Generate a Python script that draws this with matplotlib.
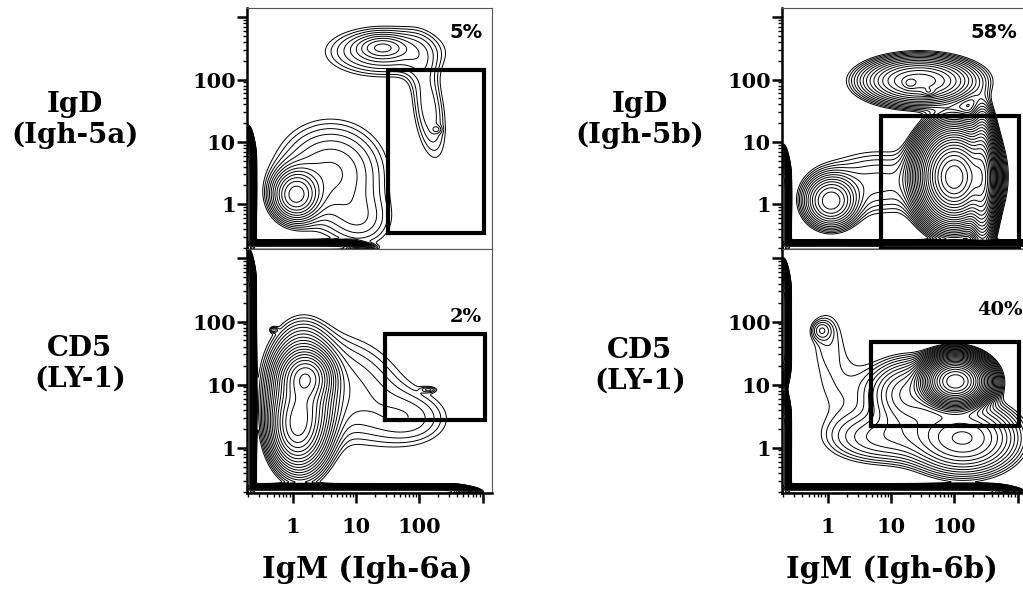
import numpy as np
import matplotlib
matplotlib.use("Agg")
import matplotlib.pyplot as plt
from matplotlib.ticker import FixedLocator, NullFormatter, LogLocator

# ---------------- data (log10 units) ----------------
# populations: centre (log10 IgM, log10 2nd marker), spreads, correlation, peak weight
lt_cx = [0.05, 0.60, 1.10, 1.42, 1.45, 2.15, 2.28]
lt_cy = [0.15, 0.50, -0.30, 2.52, 2.45, 1.55, 1.20]
lt_sx = [0.20, 0.55, 0.35, 0.22, 0.60, 0.20, 0.05]
lt_sy = [0.22, 0.52, 0.30, 0.11, 0.26, 0.60, 0.04]
lt_r = [0.0, 0.0, 0.0, 0.0, 0.0, -0.4, 0.0]
lt_w = [0.45, 0.12, 0.05, 0.10, 0.10, 0.07, 0.03]
# event pile-up bands along the axes: axis, position, start, end
lt_band_axis = ["y", "x"]
lt_band_pos = [-0.70, -0.70]
lt_band_lo = [-1.0, -1.0]
lt_band_hi = [0.85, 0.90]

lb_cx = [0.22, 0.05, 0.15, 0.80, 1.90, 2.15, -0.30]
lb_cy = [1.12, 0.30, 0.70, 0.95, 0.45, 0.92, 1.87]
lb_sx = [0.20, 0.20, 0.25, 0.70, 0.45, 0.08, 0.04]
lb_sy = [0.20, 0.30, 0.50, 0.60, 0.30, 0.03, 0.03]
lb_r = [0.0, 0.0, 0.0, -0.2, 0.0, 0.0, 0.0]
lb_w = [1.00, 0.80, 1.00, 0.08, 0.05, 0.04, 0.05]
lb_band_axis = ["y", "x"]
lb_band_pos = [-0.70, -0.70]
lb_band_lo = [-1.0, -1.0]
lb_band_hi = [2.75, 2.60]

rt_cx = [1.45, 1.30, 1.60, 2.00, 2.00, 2.45, 0.05, 0.80]
rt_cy = [1.98, 1.94, 1.80, 0.45, 0.40, 0.40, 0.05, 0.35]
rt_sx = [0.45, 0.06, 0.06, 0.25, 0.15, 0.10, 0.22, 0.60]
rt_sy = [0.19, 0.05, 0.04, 0.33, 0.20, 0.45, 0.22, 0.35]
rt_r = [0.0, 0.0, 0.0, 0.0, 0.0, 0.0, 0.0, 0.0]
rt_w = [0.80, 0.25, 0.20, 10.0, 2.0, 3.0, 0.50, 0.08]
rt_band_axis = ["y", "x"]
rt_band_pos = [-0.70, -0.70]
rt_band_lo = [-1.0, -1.0]
rt_band_hi = [0.55, 3.40]

rb_cx = [2.02, 1.30, 2.15, 0.90, -0.10, 0.00, 0.20]
rb_cy = [1.05, 0.85, 0.15, 0.15, 1.86, 1.80, 1.00]
rb_sx = [0.22, 0.35, 0.45, 0.55, 0.10, 0.20, 0.40]
rb_sy = [0.17, 0.30, 0.30, 0.25, 0.10, 0.35, 0.50]
rb_r = [0.0, 0.0, 0.0, 0.0, 0.0, 0.0, 0.0]
rb_w = [15.0, 0.30, 0.45, 0.12, 0.06, 0.035, 0.035]
rb_band_axis = ["y", "y", "x"]
rb_band_pos = [-0.70, -0.70, -0.70]
rb_band_lo = [1.25, -1.0, -1.0]
rb_band_hi = [2.60, 0.60, 2.70]

# gates: x0, x1, y0, y1 (fluorescence units)
lt_gate = [32, 1050, 0.34, 145]
lb_gate = [29, 1090, 2.7, 64]
rt_gate = [7, 1070, 0.19, 26]
rb_gate = [4.9, 1070, 2.2, 48]

pct_labels = ["5%", "2%", "58%", "40%"]
y_labels = ["IgD\n(Igh-5a)", "CD5\n(LY-1)", "IgD\n(Igh-5b)", "CD5\n(LY-1)"]
x_labels = ["IgM (Igh-6a)", "IgM (Igh-6b)"]
tick_vals = [1, 10, 100]
tick_text = ["1", "10", "100"]

# ---------------- figure ----------------
W, H = 1023, 592
fig = plt.figure(figsize=(W / 100, H / 100), dpi=100)

lo, hi = 10 ** -0.72, 10 ** 3.15
g = np.linspace(-0.75, 3.2, 500)
U, V = np.meshgrid(g, g)
levels_all = 0.03 * 1.25 ** np.arange(0, 45)

SERIF = "DejaVu Serif"


def density(cx, cy, sx, sy, rho, w, baxis, bpos, blo, bhi):
    Z = np.zeros_like(U)
    for a, b, c, d, r, e in zip(cx, cy, sx, sy, rho, w):
        du = (U - a) / c
        dv = (V - b) / d
        q = (du ** 2 - 2 * r * du * dv + dv ** 2) / (1 - r ** 2)
        Z += e * np.exp(-0.5 * q)
    for ax_, p, l0, l1 in zip(baxis, bpos, blo, bhi):
        across, along = (U, V) if ax_ == "y" else (V, U)
        prof = 0.5 * (np.tanh((along - l0) / 0.12) - np.tanh((along - l1) / 0.12))
        Z += 30.0 * prof * np.exp(-0.5 * ((across - p) / 0.035) ** 2)
    return Z


def ax_px(x0, y0, x1, y1):
    return fig.add_axes([x0 / W, 1 - y1 / H, (x1 - x0) / W, (y1 - y0) / H])


def setup(ax, bottom):
    ax.set_xscale("log")
    ax.set_yscale("log")
    ax.set_xlim(lo, hi)
    ax.set_ylim(lo, hi)
    for s in ("top", "right"):
        ax.spines[s].set_linewidth(0.8)
        ax.spines[s].set_color("#555555")
    ax.spines["left"].set_linewidth(1.8)
    ax.spines["bottom"].set_linewidth(1.8 if bottom else 0.8)
    ax.set_yticks(tick_vals + [1000])
    ax.set_yticklabels(tick_text + [""], fontfamily=SERIF, fontweight="bold", fontsize=15)
    ax.yaxis.set_minor_locator(LogLocator(base=10, subs=np.arange(2, 10)))
    ax.yaxis.set_minor_formatter(NullFormatter())
    ax.tick_params(axis="y", which="major", direction="out", length=7, width=1.8, pad=1)
    ax.tick_params(axis="y", which="minor", direction="out", length=3, width=1.0)
    if bottom:
        ax.set_xticks(tick_vals + [1000])
        ax.set_xticklabels(tick_text + [""], fontfamily=SERIF, fontweight="bold", fontsize=15)
        ax.xaxis.set_minor_locator(LogLocator(base=10, subs=np.arange(2, 10)))
        ax.xaxis.set_minor_formatter(NullFormatter())
        ax.tick_params(axis="x", which="major", direction="out", length=7, width=1.8, pad=10)
        ax.tick_params(axis="x", which="minor", direction="out", length=3, width=1.0)
    else:
        ax.set_xticks([])
        ax.xaxis.set_minor_locator(FixedLocator([]))


def panel(ax, pops, gate, pct, pct_pos, pct_family):
    Z = density(*pops)
    lv = levels_all[levels_all < Z.max()]
    ax.contour(10 ** U, 10 ** V, Z, levels=lv, colors="black", linewidths=0.7)
    x0, x1, y0, y1 = gate
    ax.plot([x0, x1, x1, x0, x0], [y0, y0, y1, y1, y0], color="black", lw=3.0,
            solid_joinstyle="miter", clip_on=False)
    ax.text(pct_pos[0], pct_pos[1], pct, transform=ax.transAxes, ha="right", va="center",
            fontsize=14, fontweight="bold", fontfamily=pct_family)


axLT = ax_px(247, 8, 492, 249)
axLB = ax_px(247, 249, 492, 493)
axRT = ax_px(782, 8, 1027, 249)   # right column is cut by the figure edge
axRB = ax_px(782, 249, 1027, 493)

for a, b in ((axLT, False), (axLB, True), (axRT, False), (axRB, True)):
    setup(a, b)

panel(axLT, (lt_cx, lt_cy, lt_sx, lt_sy, lt_r, lt_w, lt_band_axis, lt_band_pos, lt_band_lo, lt_band_hi),
      lt_gate, pct_labels[0], (0.96, 0.90), "DejaVu Sans")
panel(axLB, (lb_cx, lb_cy, lb_sx, lb_sy, lb_r, lb_w, lb_band_axis, lb_band_pos, lb_band_lo, lb_band_hi),
      lb_gate, pct_labels[1], (0.96, 0.72), SERIF)
panel(axRT, (rt_cx, rt_cy, rt_sx, rt_sy, rt_r, rt_w, rt_band_axis, rt_band_pos, rt_band_lo, rt_band_hi),
      rt_gate, pct_labels[2], (0.96, 0.90), "DejaVu Sans")
panel(axRB, (rb_cx, rb_cy, rb_sx, rb_sy, rb_r, rb_w, rb_band_axis, rb_band_pos, rb_band_lo, rb_band_hi),
      rb_gate, pct_labels[3], (0.985, 0.75), SERIF)

lab = dict(fontfamily=SERIF, fontweight="bold", fontsize=20, ha="center", va="center",
           linespacing=1.2)
fig.text(75 / W, 1 - 120 / H, y_labels[0], **lab)
fig.text(80 / W, 1 - 364 / H, y_labels[1], **lab)
fig.text(640 / W, 1 - 120 / H, y_labels[2], **lab)
fig.text(640 / W, 1 - 366 / H, y_labels[3], **lab)
xl = dict(lab, fontsize=21)
fig.text(367 / W, 1 - 570 / H, x_labels[0], **xl)
fig.text(892 / W, 1 - 570 / H, x_labels[1], **xl)

fig.savefig("out.png", dpi=100)
